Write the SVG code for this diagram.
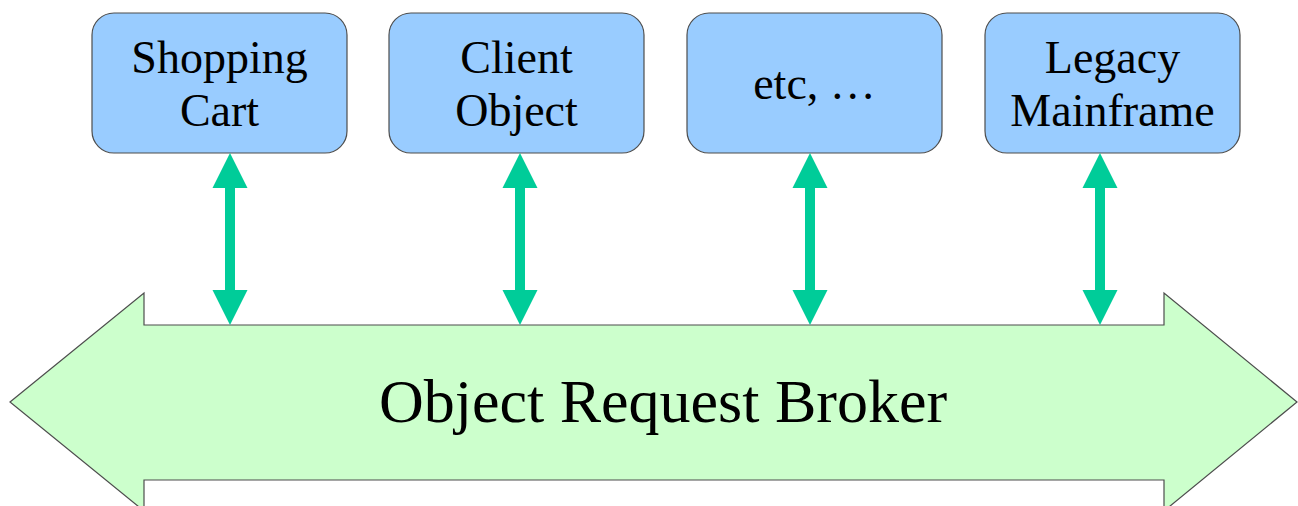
<svg xmlns="http://www.w3.org/2000/svg" width="1298" height="506" viewBox="0 0 1298 506">
  <style>
    .box { fill: #99ccff; stroke: #4d4d4d; stroke-width: 1.2; }
    .lbl { font-family: "Liberation Serif", "Times New Roman", serif; font-size: 46px; fill: #000; text-anchor: middle; }
    .bus { fill: #ccffcc; stroke: #4d4d4d; stroke-width: 1.2; }
    .bus-lbl { font-family: "Liberation Serif", "Times New Roman", serif; font-size: 62px; fill: #000; text-anchor: middle; }
    .link { fill: #00cc99; }
  </style>
  <defs>
    <!-- double-headed vertical connector, 172 px tall, centred on x=0 -->
    <path id="dbl" class="link" d="M0,0 L17.5,35 L5,35 L5,137 L17.5,137 L0,172 L-17.5,137 L-5,137 L-5,35 L-17.5,35 Z"/>
  </defs>

  <!-- broker bus -->
  <g id="broker">
    <path class="bus" d="M10,402 L144,293 L144,325 L1164,325 L1164,293 L1297,402 L1164,511 L1164,480 L144,480 L144,511 Z"/>
    <text class="bus-lbl" x="663" y="422">Object Request Broker</text>
  </g>

  <g id="shopping-cart">
    <rect class="box" x="92" y="13" width="255" height="140" rx="22" ry="22"/>
    <text class="lbl" x="219.5" y="73">Shopping</text>
    <text class="lbl" x="219.5" y="126">Cart</text>
  </g>

  <g id="client-object">
    <rect class="box" x="389" y="13" width="255" height="140" rx="22" ry="22"/>
    <text class="lbl" x="516.5" y="73">Client</text>
    <text class="lbl" x="516.5" y="126">Object</text>
  </g>

  <g id="etc">
    <rect class="box" x="687" y="13" width="255" height="140" rx="22" ry="22"/>
    <text class="lbl" x="814.5" y="99">etc, …</text>
  </g>

  <g id="legacy-mainframe">
    <rect class="box" x="985" y="13" width="255" height="140" rx="22" ry="22"/>
    <text class="lbl" x="1112.5" y="73">Legacy</text>
    <text class="lbl" x="1112.5" y="126">Mainframe</text>
  </g>

  <g id="connectors">
    <use href="#dbl" x="230" y="153"/>
    <use href="#dbl" x="520" y="153"/>
    <use href="#dbl" x="810" y="153"/>
    <use href="#dbl" x="1100" y="153"/>
  </g>
</svg>
